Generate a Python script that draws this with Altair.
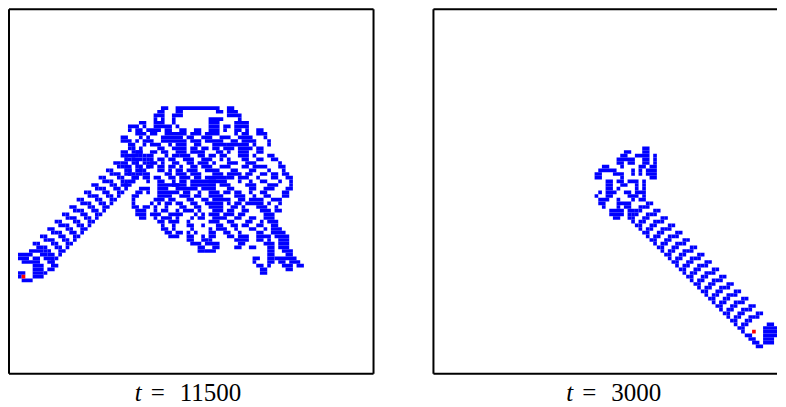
import altair as alt
import pandas as pd

CELL_BLUE = "#0000ff"
CELL_RED = "#ff0000"
LEFT_LABELS = [("t", 126, "italic"), ("=", 142, "normal"), ("11500", 171, "normal")]
RIGHT_LABELS = [("t", 133, "italic"), ("=", 149, "normal"), ("3000", 178, "normal")]

# row -> runs of occupied columns
LEFT_BLOB = {
27: [(42,43),(46,57),(60,61)],
28: [(41,42),(46,47),(57,58),(60,62)],
29: [(40,42),(45,47),(60,63)],
30: [(40,40),(42,42),(45,45),(55,58),(63,63)],
31: [(36,37),(40,42),(45,45),(55,57),(62,65)],
32: [(33,35),(37,37),(40,44),(46,46),(55,57),(59,60),(62,65)],
33: [(33,33),(35,36),(38,41),(43,44),(47,48),(51,52),(55,57),(59,59),(62,63),(65,65),(68,69)],
34: [(35,37),(39,40),(43,48),(50,52),(54,57),(62,62),(64,65),(68,70)],
35: [(31,32),(36,36),(38,38),(42,47),(49,50),(53,55),(58,60),(63,66),(70,70)],
36: [(31,33),(35,35),(37,39),(42,48),(50,52),(54,58),(61,62),(64,67),(71,71)],
37: [(33,34),(37,37),(39,41),(44,44),(46,48),(51,52),(56,59),(60,65),(67,67),(71,71)],
38: [(34,34),(36,36),(41,42),(45,48),(50,51),(53,54),(56,57),(59,61),(63,66),(68,69)],
39: [(31,32),(35,36),(39,40),(42,43),(46,48),(50,53),(57,58),(60,60),(63,65),(68,69)],
40: [(32,35),(38,39),(43,43),(45,46),(47,49),(52,53),(55,56),(58,59),(63,65),(67,67),(71,72)],
41: [(34,36),(39,39),(41,42),(44,45),(48,50),(53,55),(58,58),(60,60),(64,65),(68,69),(72,73)],
42: [(31,32),(35,35),(37,37),(39,40),(42,42),(45,46),(49,50),(52,54),(56,56),(60,62),(65,67),(74,74)],
43: [(32,33),(36,36),(38,39),(41,42),(44,45),(47,47),(50,51),(53,55),(58,60),(64,65),(67,70),(74,75)],
44: [(33,33),(35,36),(41,42),(44,44),(46,47),(49,51),(54,57),(61,62),(66,67),(71,71),(75,75)],
45: [(32,33),(35,35),(37,38),(43,44),(46,48),(50,52),(56,58),(60,63),(65,66),(69,70),(72,73),(75,76)],
46: [(34,35),(37,38),(40,41),(44,45),(47,49),(51,52),(54,59),(60,61),(63,65),(68,68),(72,73),(76,77)],
47: [(33,34),(38,38),(41,42),(45,45),(47,48),(50,56),(55,59),(63,63),(66,66),(69,70),(74,74),(77,77)],
48: [(31,32),(41,46),(45,48),(50,56),(58,60),(65,67),(71,73),(77,77)],
49: [(36,38),(41,43),(46,51),(53,56),(60,61),(66,67),(70,72),(76,77)],
50: [(35,36),(38,38),(41,46),(48,49),(52,52),(55,57),(59,60),(62,63),(66,66),(69,70),(75,76)],
51: [(34,35),(41,44),(47,49),(51,52),(55,58),(62,64),(67,67),(70,71),(75,76)],
52: [(34,34),(40,42),(44,45),(49,50),(53,54),(56,60),(63,64),(66,69),(72,74)],
53: [(34,34),(39,39),(41,41),(43,44),(46,47),(50,51),(54,58),(60,60),(62,63),(65,69),(71,71),(74,74)],
54: [(34,35),(37,38),(40,40),(43,43),(47,48),(51,52),(55,58),(61,62),(64,64),(68,70),(73,73)],
55: [(35,37),(40,40),(42,43),(46,46),(48,50),(52,52),(56,58),(60,61),(64,65),(69,71),(73,74)],
56: [(35,37),(39,41),(44,47),(51,51),(53,53),(55,57),(59,61),(63,64),(70,72)],
57: [(36,37),(40,40),(42,44),(46,46),(50,50),(52,53),(56,59),(62,63),(66,67),(70,72)],
58: [(41,42),(44,46),(49,49),(55,57),(60,61),(65,66),(69,69),(71,73)],
59: [(42,42),(45,45),(49,50),(53,53),(57,58),(61,62),(64,65),(68,69),(72,73)],
60: [(42,43),(45,45),(50,50),(55,55),(57,59),(62,62),(66,67),(70,70),(72,74)],
61: [(43,44),(46,47),(49,49),(51,51),(55,56),(59,60),(63,63),(68,69),(72,75)],
62: [(44,46),(49,50),(53,53),(55,56),(60,61),(63,65),(68,71),(73,76)],
63: [(49,50),(53,54),(55,55),(62,65),(68,69),(71,71),(74,76)],
64: [(50,52),(54,57),(63,64),(70,72),(74,76)],
65: [(52,53),(56,57),(62,63),(66,67),(71,72),(74,76)],
66: [(52,53),(54,56),(71,72),(75,77)],
67: [(71,72),(76,77)],
68: [(67,68),(71,72),(73,78)],
69: [(67,67),(71,72),(74,75),(77,79)],
70: [(68,69),(71,71),(75,77),(79,80)],
71: [(69,70),(76,77)],
72: [(69,70)],
}
LEFT_CAP = {
66: [(6,9)],
67: [(3,6),(9,10)],
68: [(3,5),(7,8),(10,11)],
69: [(4,5),(6,8),(11,12)],
70: [(7,9),(12,13)],
71: [(7,9),(11,12)],
72: [(3,4),(7,9),(10,10)],
73: [(3,3),(7,9)],
74: [(4,6)],
}
LEFT_RED = [(4,73)]

RIGHT_BLOB = {
38: [(57,58)],
39: [(52,53),(57,58)],
40: [(51,52),(55,58),(60,60)],
41: [(50,54),(57,58),(60,60)],
42: [(50,51),(53,54),(57,58),(60,60)],
43: [(46,47),(51,51),(56,57),(59,60)],
44: [(45,49),(54,54),(56,56),(58,60)],
45: [(44,45),(49,51),(54,54),(56,56),(58,60)],
46: [(44,45),(51,51),(59,60)],
47: [(47,48),(50,51),(53,55),(57,57)],
48: [(47,48),(51,52),(55,55),(57,57)],
49: [(47,48),(50,50),(55,55),(57,57)],
50: [(45,45),(47,49),(52,53),(55,57)],
51: [(44,44),(47,48),(53,55),(57,57)],
52: [(45,47),(50,50),(54,54),(56,57)],
53: [(45,46),(50,53)],
54: [(46,46),(50,50),(52,53)],
55: [(48,51),(53,54)],
56: [(48,51),(53,53)],
57: [(49,50)],
}
RIGHT_CAP = {
86: [(91,92)],
87: [(90,93)],
88: [(90,94)],
89: [(85,86),(90,94)],
90: [(86,87),(90,92)],
91: [(87,88),(90,92)],
92: [(88,89)],
}
RIGHT_RED = [(87,88)]

# one highway rung as offsets from its corner cell, and the corners seen
RUNG = [(0,0),(1,0),(1,1),(2,1),(3,1),(3,2),(4,2),(4,3),(5,3),(5,4),(6,4),(5,5)]
LEFT_RUNGS = [(33,38),(31,40),(29,42),(27,44),(25,46),(23,48),(21,50),(19,52),
              (17,54),(15,56),(13,58),(11,60),(9,62),(7,64)]
RIGHT_RUNGS = [(59,53),(61,55),(63,57),(65,59),(67,61),(69,63),(71,65),(73,67),
               (75,69),(77,71),(79,73),(81,75),(83,77),(85,79),(87,81),(89,83)]


def table(blob, cap, rungs, mirror):
    recs = []
    for src in (blob, cap):
        for r, runs in src.items():
            for a, b in runs:
                recs.append(dict(x0=a, x1=b + 1, y0=r, y1=r + 1))
    for c, r in rungs:
        for dc, dr in RUNG:
            cc = c - dc if mirror else c + dc
            recs.append(dict(x0=cc, x1=cc + 1, y0=r + dr, y1=r + dr + 1))
    return pd.DataFrame(recs)


def red_table(cells):
    return pd.DataFrame([dict(x0=c, x1=c + 1, y0=r, y1=r + 1) for c, r in cells])


H = 365


def panel(df, red, w, xdom, ydom, labels, has_right):
    xs = alt.X("x0:Q", scale=alt.Scale(domain=xdom, nice=False, zero=False), axis=None)
    ys = alt.Y("y0:Q", scale=alt.Scale(domain=ydom, nice=False, zero=False, reverse=True), axis=None)
    cells = alt.Chart(df).mark_rect(color=CELL_BLUE, clip=True).encode(x=xs, x2="x1:Q", y=ys, y2="y1:Q")
    ant = alt.Chart(red).mark_rect(color=CELL_RED, clip=True).encode(x=xs, x2="x1:Q", y=ys, y2="y1:Q")
    base = alt.Chart(pd.DataFrame({"a": [0]}))
    line = dict(color="black", strokeWidth=2)
    frame = [
        base.mark_rule(**line).encode(x=alt.value(0), x2=alt.value(w), y=alt.value(0)),
        base.mark_rule(**line).encode(x=alt.value(0), x2=alt.value(w), y=alt.value(H)),
        base.mark_rule(**line).encode(x=alt.value(0), y=alt.value(0), y2=alt.value(H)),
    ]
    if has_right:
        frame.append(base.mark_rule(**line).encode(x=alt.value(w), y=alt.value(0), y2=alt.value(H)))
    texts = [
        base.mark_text(text=s, font="Liberation Serif", fontStyle=st, fontSize=25, align="left",
                       baseline="alphabetic").encode(x=alt.value(px), y=alt.value(392))
        for s, px, st in labels
    ]
    return alt.layer(cells, ant, *frame, *texts).properties(width=w, height=H)


left = panel(table(LEFT_BLOB, LEFT_CAP, LEFT_RUNGS, False), red_table(LEFT_RED), 365,
             [0.545, 100], [0.545, 100], LEFT_LABELS, True)
right = panel(table(RIGHT_BLOB, RIGHT_CAP, RIGHT_RUNGS, True), red_table(RIGHT_RED), 344,
              [0, 93.8], [0.545, 100], RIGHT_LABELS, False)

chart = alt.hconcat(left, right, spacing=58).properties(padding=0).configure_view(stroke=None)
chart.save("out.html", embed_options={"renderer": "svg", "actions": False})
